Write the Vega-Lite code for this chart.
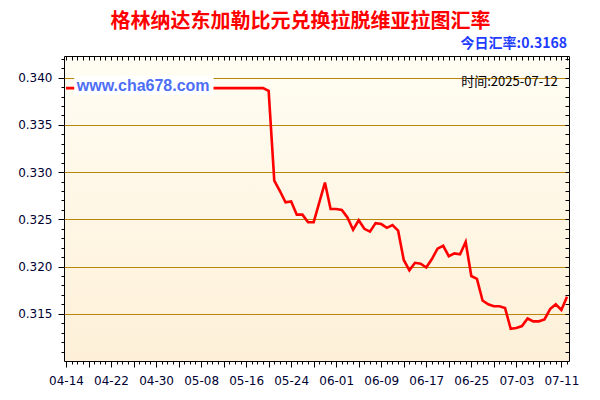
{
  "$schema": "https://vega.github.io/schema/vega-lite/v6.json",
  "width": 505,
  "height": 305,
  "autosize": "none",
  "padding": {"left": 64, "top": 56, "right": 31, "bottom": 39},
  "background": "#FFFFFF",
  "title": {
    "text": "格林纳达东加勒比元兑换拉脱维亚拉图汇率",
    "color": "#FF0000",
    "font": "Noto Sans CJK SC",
    "fontSize": 20,
    "fontWeight": "bold",
    "anchor": "middle",
    "frame": "group",
    "dx": -16,
    "offset": 5
  },
  "config": {
    "view": {
      "stroke": "#000000",
      "strokeWidth": 1,
      "fill": {
        "gradient": "linear",
        "x1": 0, "y1": 0, "x2": 0, "y2": 1,
        "stops": [
          {"offset": 0, "color": "#FFFDF3"},
          {"offset": 1, "color": "#FEF0D8"}
        ]
      }
    },
    "axis": {
      "labelFont": "DejaVu Sans",
      "labelFontSize": 12,
      "labelColor": "#000033",
      "tickColor": "#000000",
      "domain": false,
      "title": null
    }
  },
  "datasets": {
    "rates": [
      {"date": "2025-04-14", "rate": 0.3389},
      {"date": "2025-04-15", "rate": 0.3389},
      {"date": "2025-04-16", "rate": 0.3389},
      {"date": "2025-04-17", "rate": 0.3389},
      {"date": "2025-04-18", "rate": 0.3389},
      {"date": "2025-04-19", "rate": 0.3389},
      {"date": "2025-04-20", "rate": 0.3389},
      {"date": "2025-04-21", "rate": 0.3389},
      {"date": "2025-04-22", "rate": 0.3389},
      {"date": "2025-04-23", "rate": 0.3389},
      {"date": "2025-04-24", "rate": 0.3389},
      {"date": "2025-04-25", "rate": 0.3389},
      {"date": "2025-04-26", "rate": 0.3389},
      {"date": "2025-04-27", "rate": 0.3389},
      {"date": "2025-04-28", "rate": 0.3389},
      {"date": "2025-04-29", "rate": 0.3389},
      {"date": "2025-04-30", "rate": 0.3389},
      {"date": "2025-05-01", "rate": 0.3389},
      {"date": "2025-05-02", "rate": 0.3389},
      {"date": "2025-05-03", "rate": 0.3389},
      {"date": "2025-05-04", "rate": 0.3389},
      {"date": "2025-05-05", "rate": 0.3389},
      {"date": "2025-05-06", "rate": 0.3389},
      {"date": "2025-05-07", "rate": 0.3389},
      {"date": "2025-05-08", "rate": 0.3389},
      {"date": "2025-05-09", "rate": 0.3389},
      {"date": "2025-05-10", "rate": 0.3389},
      {"date": "2025-05-11", "rate": 0.3389},
      {"date": "2025-05-12", "rate": 0.3389},
      {"date": "2025-05-13", "rate": 0.3389},
      {"date": "2025-05-14", "rate": 0.3389},
      {"date": "2025-05-15", "rate": 0.3389},
      {"date": "2025-05-16", "rate": 0.3389},
      {"date": "2025-05-17", "rate": 0.3389},
      {"date": "2025-05-18", "rate": 0.3389},
      {"date": "2025-05-19", "rate": 0.3389},
      {"date": "2025-05-20", "rate": 0.3386},
      {"date": "2025-05-21", "rate": 0.3291},
      {"date": "2025-05-22", "rate": 0.3280},
      {"date": "2025-05-23", "rate": 0.3268},
      {"date": "2025-05-24", "rate": 0.3269},
      {"date": "2025-05-25", "rate": 0.3255},
      {"date": "2025-05-26", "rate": 0.3255},
      {"date": "2025-05-27", "rate": 0.3247},
      {"date": "2025-05-28", "rate": 0.3247},
      {"date": "2025-05-29", "rate": 0.3268},
      {"date": "2025-05-30", "rate": 0.3289},
      {"date": "2025-05-31", "rate": 0.3261},
      {"date": "2025-06-01", "rate": 0.3261},
      {"date": "2025-06-02", "rate": 0.3260},
      {"date": "2025-06-03", "rate": 0.3252},
      {"date": "2025-06-04", "rate": 0.3239},
      {"date": "2025-06-05", "rate": 0.3249},
      {"date": "2025-06-06", "rate": 0.3240},
      {"date": "2025-06-07", "rate": 0.3237},
      {"date": "2025-06-08", "rate": 0.3246},
      {"date": "2025-06-09", "rate": 0.3245},
      {"date": "2025-06-10", "rate": 0.3241},
      {"date": "2025-06-11", "rate": 0.3244},
      {"date": "2025-06-12", "rate": 0.3238},
      {"date": "2025-06-13", "rate": 0.3207},
      {"date": "2025-06-14", "rate": 0.3196},
      {"date": "2025-06-15", "rate": 0.3204},
      {"date": "2025-06-16", "rate": 0.3203},
      {"date": "2025-06-17", "rate": 0.3199},
      {"date": "2025-06-18", "rate": 0.3208},
      {"date": "2025-06-19", "rate": 0.3219},
      {"date": "2025-06-20", "rate": 0.3222},
      {"date": "2025-06-21", "rate": 0.3211},
      {"date": "2025-06-22", "rate": 0.3214},
      {"date": "2025-06-23", "rate": 0.3213},
      {"date": "2025-06-24", "rate": 0.3226},
      {"date": "2025-06-25", "rate": 0.3190},
      {"date": "2025-06-26", "rate": 0.3187},
      {"date": "2025-06-27", "rate": 0.3164},
      {"date": "2025-06-28", "rate": 0.3160},
      {"date": "2025-06-29", "rate": 0.3158},
      {"date": "2025-06-30", "rate": 0.3158},
      {"date": "2025-07-01", "rate": 0.3156},
      {"date": "2025-07-02", "rate": 0.3134},
      {"date": "2025-07-03", "rate": 0.3135},
      {"date": "2025-07-04", "rate": 0.3137},
      {"date": "2025-07-05", "rate": 0.3145},
      {"date": "2025-07-06", "rate": 0.3142},
      {"date": "2025-07-07", "rate": 0.3142},
      {"date": "2025-07-08", "rate": 0.3144},
      {"date": "2025-07-09", "rate": 0.3155},
      {"date": "2025-07-10", "rate": 0.3160},
      {"date": "2025-07-11", "rate": 0.3154},
      {"date": "2025-07-12", "rate": 0.3168}
    ],
    "watermarkBox": [
      {"start": "2025-04-15T11:00:00Z", "end": "2025-05-10T05:00:00Z", "low": 0.3382, "high": 0.3402}
    ],
    "watermark": [
      {"date": "2025-04-15T22:00:00Z", "rate": 0.3391, "label": "www.cha678.com"}
    ],
    "stamp": [
      {"date": "2025-07-10T08:00:00Z", "rate": 0.3395, "label": "时间:2025-07-12"}
    ],
    "today": [
      {"date": "2025-07-12", "rate": 0.34362, "label": "今日汇率:0.3168"}
    ]
  },
  "resolve": {"axis": {"x": "independent", "y": "independent"}},
  "layer": [
    {
      "data": {"name": "rates"},
      "mark": {"type": "line", "color": "#FF0000", "strokeWidth": 2.6, "interpolate": "linear"},
      "encoding": {
        "x": {
          "field": "date",
          "type": "temporal",
          "scale": {
            "type": "utc",
            "domain": [
              {"year": 2025, "month": 4, "date": 14, "utc": true},
              {"year": 2025, "month": 7, "date": 12, "utc": true}
            ],
            "padding": 2,
            "nice": false
          },
          "axis": {
            "orient": "bottom",
            "title": null,
            "tickCount": {"interval": "day", "step": 1},
            "labelExpr": "round((datum.value - 1744588800000) / 86400000) % 8 == 0 ? utcFormat(datum.value, '%m-%d') : ''",
            "tickSize": {"condition": {"test": "round((datum.value - 1744588800000) / 86400000) % 4 == 0", "value": 6}, "value": 3},
            "labelFlush": false,
            "labelOverlap": false,
            "labelPadding": 8,
            "grid": false
          }
        },
        "y": {
          "field": "rate",
          "type": "quantitative",
          "scale": {"domain": [0.3100, 0.3423], "nice": false, "zero": false},
          "axis": {
            "orient": "left",
            "title": null,
            "values": [0.311, 0.312, 0.313, 0.314, 0.315, 0.316, 0.317, 0.318, 0.319, 0.320, 0.321, 0.322, 0.323, 0.324, 0.325, 0.326, 0.327, 0.328, 0.329, 0.330, 0.331, 0.332, 0.333, 0.334, 0.335, 0.336, 0.337, 0.338, 0.339, 0.340, 0.341, 0.342],
            "labelExpr": "round(datum.value * 1000) % 5 == 0 ? format(datum.value, '.3f') : ''",
            "tickSize": {"condition": {"test": "round(datum.value * 1000) % 5 == 0", "value": 6}, "value": 3},
            "grid": true,
            "gridColor": "#B8860B",
            "gridWidth": 1,
            "gridOpacity": {"condition": {"test": "round(datum.value * 1000) % 5 == 0", "value": 1}, "value": 0},
            "labelOverlap": false,
            "labelPadding": 6
          }
        }
      }
    },
    {
      "data": {"name": "watermarkBox"},
      "mark": {"type": "rect", "color": "#FFFFFF"},
      "encoding": {
        "x": {"field": "start", "type": "temporal", "axis": null},
        "x2": {"field": "end"},
        "y": {"field": "low", "type": "quantitative", "axis": null},
        "y2": {"field": "high"}
      }
    },
    {
      "data": {"name": "watermark"},
      "mark": {"type": "text", "align": "left", "baseline": "middle", "font": "Liberation Sans", "fontSize": 16, "fontWeight": "bold", "color": "#4D6EF5"},
      "encoding": {
        "x": {"field": "date", "type": "temporal", "axis": null},
        "y": {"field": "rate", "type": "quantitative", "axis": null},
        "text": {"field": "label"}
      }
    },
    {
      "data": {"name": "stamp"},
      "mark": {"type": "text", "align": "right", "baseline": "middle", "font": "Noto Sans CJK SC", "fontSize": 13, "color": "#000000"},
      "encoding": {
        "x": {
          "field": "date",
          "type": "temporal",
          "axis": {
            "orient": "top",
            "title": null,
            "labels": false,
            "grid": false,
            "tickCount": {"interval": "day", "step": 1},
            "tickSize": -4
          }
        },
        "y": {
          "field": "rate",
          "type": "quantitative",
          "axis": {
            "orient": "right",
            "title": null,
            "labels": false,
            "grid": false,
            "values": [0.311, 0.312, 0.313, 0.314, 0.315, 0.316, 0.317, 0.318, 0.319, 0.320, 0.321, 0.322, 0.323, 0.324, 0.325, 0.326, 0.327, 0.328, 0.329, 0.330, 0.331, 0.332, 0.333, 0.334, 0.335, 0.336, 0.337, 0.338, 0.339, 0.340, 0.341, 0.342],
            "tickSize": -4
          }
        },
        "text": {"field": "label"}
      }
    },
    {
      "data": {"name": "today"},
      "mark": {"type": "text", "align": "right", "baseline": "middle", "font": "Noto Sans CJK SC", "fontSize": 14, "fontWeight": "bold", "color": "#1E3CFF"},
      "encoding": {
        "x": {"field": "date", "type": "temporal", "axis": null},
        "y": {"field": "rate", "type": "quantitative", "axis": null},
        "text": {"field": "label"}
      }
    }
  ]
}
